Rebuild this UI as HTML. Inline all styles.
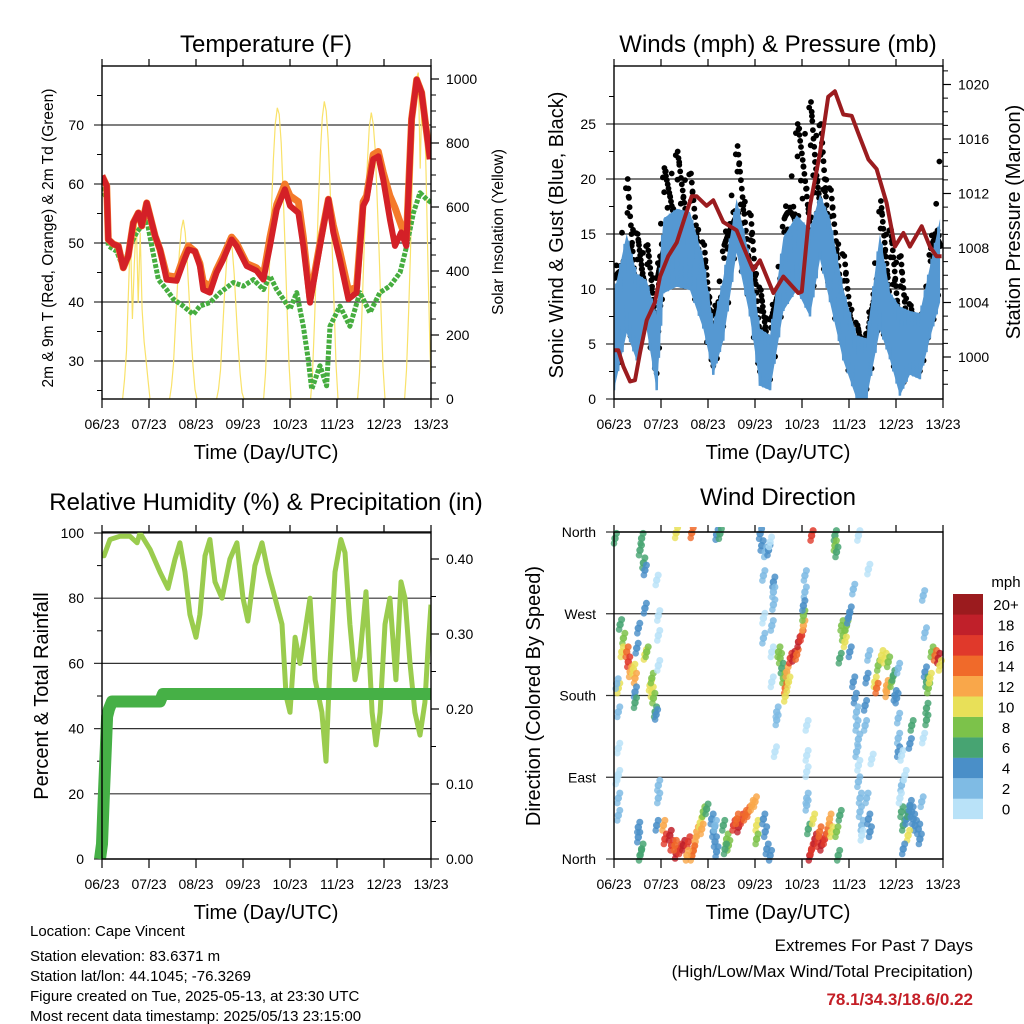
<!DOCTYPE html>
<html><head><meta charset="utf-8"><title>Cape Vincent Meteogram</title>
<style>
html,body{margin:0;padding:0;background:#fff;}
svg{display:block;font-family:"Liberation Sans",Arial,sans-serif;}
</style></head>
<body>
<svg id="root" width="1024" height="1024" viewBox="0 0 1024 1024" xmlns="http://www.w3.org/2000/svg">
<defs>
<clipPath id="c1"><rect x="102" y="66" width="329" height="333"/></clipPath>
<clipPath id="c2"><rect x="614" y="66" width="329" height="333"/></clipPath>
<clipPath id="c3"><rect x="102" y="532" width="329" height="328"/></clipPath>
<clipPath id="c4"><rect x="610" y="527" width="337" height="337"/></clipPath>
</defs>
<text x="266" y="52" font-size="24" text-anchor="middle">Temperature (F)</text>
<text x="778" y="52" font-size="24" text-anchor="middle">Winds (mph) &amp; Pressure (mb)</text>
<text x="266" y="510" font-size="24" text-anchor="middle">Relative Humidity (%) &amp; Precipitation (in)</text>
<text x="778" y="505" font-size="24" text-anchor="middle">Wind Direction</text>
<text x="266" y="459" font-size="20" text-anchor="middle">Time (Day/UTC)</text>
<text x="778" y="459" font-size="20" text-anchor="middle">Time (Day/UTC)</text>
<text x="266" y="919" font-size="20" text-anchor="middle">Time (Day/UTC)</text>
<text x="778" y="919" font-size="20" text-anchor="middle">Time (Day/UTC)</text>
<text transform="translate(53,238) rotate(-90)" font-size="15.5" text-anchor="middle">2m &amp; 9m T (Red, Orange) &amp; 2m Td (Green)</text>
<text transform="translate(503,232) rotate(-90)" font-size="15.5" text-anchor="middle">Solar Insolation (Yellow)</text>
<text transform="translate(563,235) rotate(-90)" font-size="20" text-anchor="middle">Sonic Wind &amp; Gust (Blue, Black)</text>
<text transform="translate(1020,222) rotate(-90)" font-size="20" text-anchor="middle">Station Pressure (Maroon)</text>
<text transform="translate(48,696) rotate(-90)" font-size="20" text-anchor="middle">Percent &amp; Total Rainfall</text>
<text transform="translate(540,696) rotate(-90)" font-size="20" text-anchor="middle">Direction (Colored By Speed)</text>
<g font-size="15">
<text x="30" y="936">Location: Cape Vincent</text>
<text x="30" y="961">Station elevation: 83.6371 m</text>
<text x="30" y="981">Station lat/lon: 44.1045; -76.3269</text>
<text x="30" y="1001">Figure created on Tue, 2025-05-13, at 23:30 UTC</text>
<text x="30" y="1021">Most recent data timestamp: 2025/05/13 23:15:00</text>
</g>
<g font-size="17" text-anchor="end">
<text x="973" y="951">Extremes For Past 7 Days</text>
<text x="973" y="977">(High/Low/Max Wind/Total Precipitation)</text>
<text x="973" y="1005" fill="#c41e26" font-weight="bold">78.1/34.3/18.6/0.22</text>
</g>
<text x="1006" y="587" font-size="15" text-anchor="middle">mph</text>
<g id="layer"></g>
</svg>
<script>
// ---------- data ----------
const dayLabels = ['06/23','07/23','08/23','09/23','10/23','11/23','12/23','13/23'];
const tempHours = [0,2.4,3.2,5.8,8.3,10.9,13.4,16,18.6,20.3,22.8,27.1,29.6,33,38.1,41.5,44.1,47.5,50,51.7,55.1,58.5,61.9,66.2,68.7,73.9,78.9,82.4,85.8,89.2,93.4,96,100.3,102.8,106.2,111.3,115.6,118.1,121.5,125.8,130,133.4,135.1,138.5,141.1,143.6,147,149.6,152.8,155.4,158.1,160.7,163.2,167.5];
const temp2m = [61.4,59.7,50.6,49.8,49.5,45.8,47.8,53.4,55.1,52.9,56.8,51.2,48.9,43.8,43.6,46.7,48.9,48.6,46.1,42.1,41.6,45,47.2,50.6,49.5,46.1,45.3,43.8,49.5,55.7,59.1,56.3,55.1,49.5,39.9,49.5,57.4,51.8,47.2,40.5,41.6,56.3,57.4,64.2,64.7,60.8,54,49.5,51.8,49.5,71,77.7,75.5,64.2];
const temp9m = [61.4,59.7,50.6,49.8,49.5,45.8,47.8,53.4,55.1,52.9,56.8,51.2,48.9,44.5,44.2,47.5,49.5,48.6,46.5,43.5,42.5,45.5,47.8,51,50,46.5,45.8,44.5,51,56.5,60,58,57,51,40.5,50,57.4,53,48.5,42,42.5,57,58,65,65.5,62,58,56,53,50.5,71,77.7,75.5,64.2];
const dewHours = [0,2.4,3.2,7.5,10.9,14.3,17.7,22.8,25.4,28.8,33,36.4,41.5,46.6,50,55.1,60.3,67.1,72.2,77.3,82.4,85.8,89.2,92.6,96,99.4,102.8,105.3,107.1,111.3,114.7,116.4,121.5,126.6,131.7,136.8,141.9,147,152.2,155.6,159,162.4,165.8,168.3];
const dewPoint = [59.4,57.4,49.5,48.6,45.8,49.5,51.8,54,49.5,43.8,42.1,40.5,39.3,37.9,39.3,39.9,41.6,43.3,42.7,43.8,42.1,44.4,42.1,40.5,38.8,41.6,35.9,30.3,25.2,29.2,25.8,35.9,39.3,35.9,41.6,38.2,41.6,42.7,45,49.5,55.1,58.5,57.4,56.8];
const solarHours = [10.5,11.5,12.5,13.5,14.5,15.5,16.5,17.5,18.5,19.5,20.5,21.5,22.5,23.5,24.5, 34.5,35.5,36.5,37.5,38.5,39.5,40.5,41.5,42.5,43.5,44.5,45.5,46.5,47.5,48.5, 58.5,59.5,60.5,61.5,62.5,63.5,64.5,65.5,66.5,67.5,68.5,69.5,70.5,71.5,72.5, 82.5,83.5,84.5,85.5,86.5,87.5,88.5,89.5,90.5,91.5,92.5,93.5,94.5,95.5,96.5, 106.5,107.5,108.5,109.5,110.5,111.5,112.5,113.5,114.5,115.5,116.5,117.5,118.5,119.5,120.5, 130.5,131.5,132.5,133.5,134.5,135.5,136.5,137.5,138.5,139.5,140.5,141.5,142.5,143.5,144.5, 154.5,155.5,156.5,157.5,158.5,159.5,160.5,161.5,162.5,163.5,164.5,165.5,166.5,167.5,168.5];
const solarValues = [0,60,150,330,520,250,420,560,300,520,280,180,120,60,0, 0,40,110,230,350,460,530,560,520,430,320,200,100,30,0, 0,30,90,200,320,420,490,505,470,390,280,170,80,20,0, 0,80,230,410,590,750,860,910,890,800,650,470,280,110,0, 0,80,240,420,610,770,880,930,900,810,660,480,290,110,0, 0,80,230,400,590,740,850,895,860,780,630,460,270,100,0, 0,90,260,450,700,880,1000,1020,720,980,950,700,400,150,0];
const windHours = [0,6.5,11.6,16.7,21.8,25.2,32,38.8,45.6,50.7,55.8,62.6,69.4,74.5,79.7,86.5,93.3,100.1,105.2,110.3,117.1,123.9,129,135.8,140.9,146,151.1,156.2,161.3,166.5];
const windHigh = [9.6,15,11.4,10.8,7.5,16.4,17.3,17,12.8,6.8,11,18.2,12.8,6.4,5.8,14.7,16.7,15.4,18.6,16.4,10,5.8,5.5,15,9.7,8.4,8,7.8,12,16.4];
const windLow = [0.8,6,3.5,6.3,0.8,9.6,10.2,9.9,6.4,2.2,5.3,13.3,7.5,1.2,0.8,8,9.9,7.5,12.7,8.8,3.5,0,0,6.3,3.6,0.3,2.2,1.8,5.5,8.8];
const gustHigh = [11,20,15,14,11,21,22.5,20.5,14,7.6,14,23,16.7,9.9,7.2,16.4,25,27,25,19,13,6.7,6,18,15.4,13,8.5,6.7,13.7,22.4];
const presHours = [0,2.2,4.8,8.2,10.7,13.3,16.7,20.9,23.5,27.7,32,35.4,39.7,42.2,47.3,50.7,55.8,62.6,66,71.1,74.5,81.4,86.5,94.1,95.9,100.1,105.2,109.4,112.8,117.1,121.4,124.8,129.9,134.1,139.2,143.5,147.8,151.1,157.1,161.3,164.7,167.3];
const pressure = [1000.5,1000.5,999.3,998.2,998.3,1000.3,1002.7,1004,1005.9,1007.4,1008.4,1009.9,1011.8,1011.8,1011.1,1011.5,1009.9,1009.3,1008.1,1006.4,1007.1,1004.7,1005.9,1004.7,1004.8,1011.1,1015,1019.1,1019.5,1017.8,1017.7,1016.4,1014.5,1013.8,1011.3,1008.1,1009.1,1008.1,1009.6,1008.1,1007.4,1007.4];
const rhHours = [0,1,4.1,9.2,14.3,17.9,19.4,24.5,29.6,33.7,37.3,39.8,42.4,44.9,48,50,52.6,55.1,57.7,61.3,65.3,68.9,72,74.5,78.1,81.7,84.8,88.4,91.9,94,96,98.6,101.1,103.7,106.2,108.8,112.3,114.4,116.4,119,122,124.1,126.6,129.2,131.7,134.8,137.9,139.9,142,144.5,147,150.1,152.7,154.7,157.3,159.8,162.4,164.9,166.5,168];
const rhValues = [93,93,98,99,99,97,100,95,88,83,92,97,88,75,68,75,93,98,85,80,92,97,80,73,90,97,88,80,72,50,45,68,60,70,80,55,45,30,60,88,98,94,72,55,62,82,45,35,45,72,80,55,85,80,60,45,38,48,65,78];
const precipHours = [-1,-0.5,0,1,2,2.6,3.6,5.1,29.6,31.1,168];
const precipValues = [0,0.01,0.02,0.09,0.15,0.19,0.2,0.21,0.21,0.22,0.22];
const dirHours = [0.5,3.1,4.8,4,6.5,7.3,8.2,9.9,10.7,2.2,1.4,2.2,2.2,2.2,2.2,2.2,10.7,10.7,12.4,11.6,
 14.1,13.3,15,15.8,15.8,15.8,16.7,18.4,19.3,20.1,21,21.5,19.3,21.8,22.6,22.6,22.6,1.4,
 12.4,12.4,14.1,13.3,22.6,22.6,21.8,
 25.2,26,28.5,29.4,31.7,33.7,35.4,38,39.7,41.4,42.3,44,45.6,47.3,44.8,40.5,31.1,37.2,31.7,39.7,
 49.9,50.7,51.6,52.4,51.6,52.4,54.1,55.8,57.5,58.4,56.7,
 61,63.5,65.2,66.9,68.6,70.3,72,62.7,72.8,72.8,
 76.3,77.2,78,79.7,74.6,75.4,77.2,78.9,79.7,76.3,81.4,81.4,81.4,76.3,76.3,80.6,80.6,80.6,83.1,83.1,82.2,
 84.8,85.7,86.5,87.4,87.4,88.2,90,91.6,93.3,94.2,95.8,96.7,96.7,84,89.1,
 97.5,97.5,96.7,98.4,98.4,98.4,98.4,98.4,
 100,100.9,102.6,104.2,105.9,107.6,109.3,110.1,111,99.2,101.7,105,100.9,113.6,114.5,115.3,
 112.8,112.8,113.6,
 116.2,117,117.9,118.7,119.6,115.3,120.4,120.4,
 124.8,129.9,122.2,122.2,123,123.9,123.9,124.8,123.9,124.8,124.8,125.6,125.6,126.5,126.5,129.9,130.7,129,128.2,131.6,129,129.9,128.2,
 133.2,134.1,134.9,136.6,138.3,140,139.2,139.2,141.7,142.6,143.4,144.3,145.1,145.1,145.1,145.1,146.8,
 146.8,147.7,149.4,150.2,151.1,152,152.8,153.7,155.4,150.2,156.2,147.7,146.8,148.5,146,157.1,
 157.9,158.8,158.8,159.6,160.5,161.3,162.2,163.9,165.6,166.4,159.6,159.6,152,151.1,157.9];
const dirDegrees = [353,258,243,228,228,217,206,209,199,188,193,162,122,92,67,48,184,172,254,232,
 353,340,326,318,276,225,228,191,184,177,162,159,199,307,268,246,213,88,
 35,24,11,4,81,67,37,
 37,22,26,15,6,11,15,19,4,19,30,40,52,55,33,9,15,4,359,359,
 44,30,19,8,37,357,358,37,22,15,11,
 37,35,44,48,52,59,63,44,37,22,
 44,30,11,4,358,345,338,340,349,312,305,294,280,265,243,257,228,195,162,153,118,
 221,210,199,188,179,206,221,223,225,239,246,257,268,228,195,
 312,294,279,147,114,96,67,59,
 4,11,22,19,15,22,33,44,30,33,44,30,356,30,4,48,
 356,345,338,
 257,246,239,257,265,221,272,228,
 356,319,297,195,177,162,147,132,118,103,85,67,52,37,26,44,30,67,147,110,199,224,169,
 195,188,213,224,221,217,191,184,195,202,180,177,210,155,133,118,114,
 52,37,44,52,59,52,44,37,33,26,22,11,81,92,67,63,
 290,249,206,195,188,199,228,224,221,213,166,153,147,127,133];
const dirSpeeds = [6,6,8,10,14,16,12,10,12,10,2,2,1,1,2,2,4,6,4,4,
 6,6,6,4,4,10,8,10,10,8,6,4,8,1,1,1,1,1,
 4,4,6,6,2,2,4,
 12,16,18,16,18,16,18,16,12,12,12,10,8,6,12,14,14,12,10,14,
 4,4,4,4,2,4,6,6,8,8,6,
 16,18,16,14,14,12,12,14,10,8,
 4,4,4,4,4,4,2,4,1,2,4,2,2,1,2,2,1,1,2,2,1,
 8,6,8,14,10,12,16,18,14,18,16,12,8,8,10,
 2,2,4,1,1,1,2,2,
 18,16,18,16,18,16,14,12,10,6,10,14,16,8,6,6,
 6,8,6,
 8,8,10,8,4,6,4,4,
 1,1,2,4,4,2,2,2,2,1,2,2,2,2,1,4,4,2,2,1,4,2,4,
 10,14,8,10,10,8,12,12,8,6,4,4,2,2,2,4,1,
 6,6,4,6,4,4,4,4,4,10,4,4,2,1,1,2,
 2,2,4,6,8,10,8,14,18,10,6,6,6,4,1];
const speedLabels = ['0','2','4','6','8','10','12','14','16','18','20+'];
const speedColors = ['#b9e2f8','#7fbbe4','#4a8fc8','#47a472','#7cc24a','#e8e058','#f9a74a','#f06a2a','#e0392b','#c0202a','#9b1b1e'];

// ---------- helpers ----------
const NS = 'http://www.w3.org/2000/svg';
const layer = document.getElementById('layer');
function mk(parent, tag, attrs, name) {
  const e = document.createElementNS(NS, tag);
  for (const k in attrs) e.setAttribute(k, attrs[k]);
  
  
  parent.appendChild(e);
  return e;
}
const xL = h => 102 + h * 47 / 24;
const xR = h => 614 + h * 47 / 24;
const tempY = v => 361 - (v - 30) * 5.9;
const solarY = v => 399 - v * 0.32;
const windY = v => 399 - v * 11;
const presY = v => 357 - (v - 1000) * 13.625;
const rhY = v => 859 - v * 3.26;
const prY = v => 859 - v * 750;
const dirY = d => 859 - d * 327 / 360;
function pts(hs, vs, fx, fy) { return hs.map((h, i) => fx(h).toFixed(1) + ',' + fy(vs[i]).toFixed(1)).join(' '); }

function axes(x0, x1, y0, y1, fx, left, right, name) {
  const g = mk(layer, 'g', {}, name + '-axes');
  left.vals.forEach((v, i) => {
    const y = left.f(v);
    if (left.grid) mk(g, 'line', {x1: x0 - 8, x2: x1, y1: y, y2: y, stroke: '#333', 'stroke-width': 1.2}, name + '-gridline');
    const t = mk(g, 'text', {x: x0 - 18, y: y + 5, 'font-size': left.fs || 14, 'text-anchor': 'end'}, name + '-left-tick-label');
    t.textContent = left.labels[i];
  });
  left.minor.forEach(v => {
    mk(g, 'line', {x1: x0 - 5, x2: x0, y1: left.f(v), y2: left.f(v), stroke: '#000', 'stroke-width': 1}, name + '-left-minor-tick');
  });
  if (right) {
    right.vals.forEach((v, i) => {
      const y = right.f(v);
      mk(g, 'line', {x1: x1, x2: x1 + 8, y1: y, y2: y, stroke: '#000', 'stroke-width': 1.2}, name + '-right-tick');
      const t = mk(g, 'text', {x: x1 + 15, y: y + 5, 'font-size': 14}, name + '-right-tick-label');
      t.textContent = right.labels[i];
    });
    right.minor.forEach(v => {
      mk(g, 'line', {x1: x1, x2: x1 + 5, y1: right.f(v), y2: right.f(v), stroke: '#000', 'stroke-width': 1}, name + '-right-minor-tick');
    });
  }
  dayLabels.forEach((lab, i) => {
    const x = fx(i * 24);
    mk(g, 'line', {x1: x, x2: x, y1: y1, y2: y1 + 9, stroke: '#000', 'stroke-width': 1.2}, name + '-x-tick');
    mk(g, 'line', {x1: x, x2: x, y1: y0 - 7, y2: y0, stroke: '#000', 'stroke-width': 1.2}, name + '-top-tick');
    const t = mk(g, 'text', {x: x, y: y1 + 30, 'font-size': 14, 'text-anchor': 'middle'}, name + '-x-tick-label');
    t.textContent = lab;
  });
  return g;
}
function frame(x0, x1, y0, y1, name) {
  mk(layer, 'rect', {x: x0, y: y0, width: x1 - x0, height: y1 - y0, fill: 'none', stroke: '#000', 'stroke-width': 1.4}, name + '-frame');
}

// ---------- Panel 1: Temperature ----------
axes(102, 431, 66, 399, xL,
  {vals: [30,40,50,60,70], labels: ['30','40','50','60','70'], f: tempY, grid: true, minor: [25,35,45,55,65,75]},
  {vals: [0,200,400,600,800,1000], labels: ['0','200','400','600','800','1000'], f: solarY, minor: [50,100,150,250,300,350,450,500,550,650,700,750,850,900,950]},
  'temp');
const g1 = mk(layer, 'g', {'clip-path': 'url(#c1)'}, 'temperature-plot');
mk(g1, 'polyline', {points: pts(solarHours, solarValues, xL, solarY), fill: 'none', stroke: '#f9e26a', 'stroke-width': 1.2}, 'solar-insolation-line');
mk(g1, 'polyline', {points: pts(dewHours, dewPoint, xL, tempY), fill: 'none', stroke: '#46ad3f', 'stroke-width': 5, 'stroke-dasharray': '4 1.5', 'stroke-linejoin': 'round'}, 'dewpoint-line');
mk(g1, 'polyline', {points: pts(tempHours, temp9m, xL, tempY), fill: 'none', stroke: '#f47a2a', 'stroke-width': 7, 'stroke-linejoin': 'round'}, 'temp-9m-line');
mk(g1, 'polyline', {points: pts(tempHours, temp2m, xL, tempY), fill: 'none', stroke: '#d42027', 'stroke-width': 6, 'stroke-linejoin': 'round'}, 'temp-2m-line');
frame(102, 431, 66, 399, 'temp');

// ---------- Panel 2: Winds ----------
axes(614, 943, 66, 399, xR,
  {vals: [0,5,10,15,20,25], labels: ['0','5','10','15','20','25'], f: windY, grid: true, minor: [2.5,7.5,12.5,17.5,22.5,27.5]},
  {vals: [1000,1004,1008,1012,1016,1020], labels: ['1000','1004','1008','1012','1016','1020'], f: presY, minor: [998,999,1001,1002,1003,1005,1006,1007,1009,1010,1011,1013,1014,1015,1017,1018,1019,1021]},
  'winds');
const g2 = mk(layer, 'g', {'clip-path': 'url(#c2)'}, 'winds-plot');
const fr = [0.15, 0.8, 0.45, 0.95, 0.3, 0.65, 0.05, 0.55, 0.72, 0.25, 0.88, 0.4, 0.6, 0.1, 0.5, 0.98];
for (let i = 0; i < windHours.length - 1; i++) {
  for (let k = 0; k < 16; k++) {
    const t = k / 16;
    const h = windHours[i] + (windHours[i + 1] - windHours[i]) * t;
    const lo = windLow[i] + (windLow[i + 1] - windLow[i]) * t;
    const hi = gustHigh[i] + (gustHigh[i + 1] - gustHigh[i]) * t;
    const v = lo + (hi - lo) * fr[k];
    mk(g2, 'circle', {cx: xR(h).toFixed(1), cy: windY(v).toFixed(1), r: 2.9, fill: '#000'}, 'gust-point');
    mk(g2, 'circle', {cx: (xR(h) + 1).toFixed(1), cy: windY(hi - (hi - lo) * 0.04 * k).toFixed(1), r: 2.9, fill: '#000'}, 'gust-point');
  }
}
const band = pts(windHours, windHigh, xR, windY) + ' ' + pts(windHours.slice().reverse(), windLow.slice().reverse(), xR, windY);
mk(g2, 'polygon', {points: band, fill: '#5598d2'}, 'wind-speed-band');
let zz = [];
for (let i = 0; i < windHours.length - 1; i++) {
  for (let k = 0; k < 6; k++) {
    const t = k / 6;
    const h = windHours[i] + (windHours[i + 1] - windHours[i]) * t;
    const lo = windLow[i] + (windLow[i + 1] - windLow[i]) * t;
    const hi = windHigh[i] + (windHigh[i + 1] - windHigh[i]) * t;
    zz.push(xR(h).toFixed(1) + ',' + windY(k % 2 ? hi : lo).toFixed(1));
  }
}
mk(g2, 'polyline', {points: zz.join(' '), fill: 'none', stroke: '#5598d2', 'stroke-width': 2.5}, 'wind-speed-line');
mk(g2, 'polyline', {points: pts(presHours, pressure, xR, presY), fill: 'none', stroke: '#9b1c1f', 'stroke-width': 4, 'stroke-linejoin': 'round'}, 'pressure-line');
frame(614, 943, 66, 399, 'winds');

// ---------- Panel 3: RH & Precip ----------
axes(102, 431, 532, 859, xL,
  {vals: [0,20,40,60,80,100], labels: ['0','20','40','60','80','100'], f: rhY, grid: true, minor: [10,30,50,70,90]},
  {vals: [0,0.1,0.2,0.3,0.4], labels: ['0.00','0.10','0.20','0.30','0.40'], f: prY, minor: [0.05,0.15,0.25,0.35]},
  'humidity');
const g3 = mk(layer, 'g', {'clip-path': 'url(#c3)'}, 'humidity-plot');
mk(g3, 'polyline', {points: pts(rhHours, rhValues, xL, rhY), fill: 'none', stroke: '#9acc4e', 'stroke-width': 5, 'stroke-linejoin': 'round'}, 'relative-humidity-line');
mk(layer, 'polyline', {points: pts(precipHours, precipValues, xL, prY), fill: 'none', stroke: '#46b046', 'stroke-width': 12, 'stroke-linejoin': 'round'}, 'precipitation-line');
frame(102, 431, 532, 859, 'humidity');

// ---------- Panel 4: Wind direction ----------
axes(614, 943, 532, 859, xR,
  {vals: [0,90,180,270,360], labels: ['North','East','South','West','North'], f: dirY, grid: true, minor: [], fs: 14},
  null, 'direction');
const g4 = mk(layer, 'g', {'clip-path': 'url(#c4)'}, 'direction-plot');
for (let i = 0; i < dirHours.length; i++) {
  const s = dirSpeeds[i];
  const idx = Math.min(10, Math.floor(s / 2));
  mk(g4, 'circle', {cx: xR(dirHours[i]).toFixed(1), cy: dirY(dirDegrees[i]).toFixed(1), r: 3.7, fill: speedColors[idx], 'fill-opacity': 0.9}, 'direction-point');
  mk(g4, 'circle', {cx: (xR(dirHours[i]) + 1.5).toFixed(1), cy: (dirY(dirDegrees[i]) - 5).toFixed(1), r: 3.5, fill: speedColors[idx], 'fill-opacity': 0.85}, 'direction-point');
  mk(g4, 'circle', {cx: (xR(dirHours[i]) - 1).toFixed(1), cy: (dirY(dirDegrees[i]) + 5).toFixed(1), r: 3.3, fill: speedColors[idx], 'fill-opacity': 0.8}, 'direction-point');
}
frame(614, 943, 532, 859, 'direction');

// colorbar
const cb = mk(layer, 'g', {}, 'speed-colorbar');
for (let i = 0; i < speedLabels.length; i++) {
  const y = 819 - (i + 1) * 20.45;
  mk(cb, 'rect', {x: 953, y: y.toFixed(1), width: 30, height: 20.6, fill: speedColors[i]}, 'colorbar-swatch');
  const t = mk(cb, 'text', {x: 1006, y: (y + 16).toFixed(1), 'font-size': 15, 'text-anchor': 'middle'}, 'colorbar-label');
  t.textContent = speedLabels[i];
}
</script>
</body></html>
